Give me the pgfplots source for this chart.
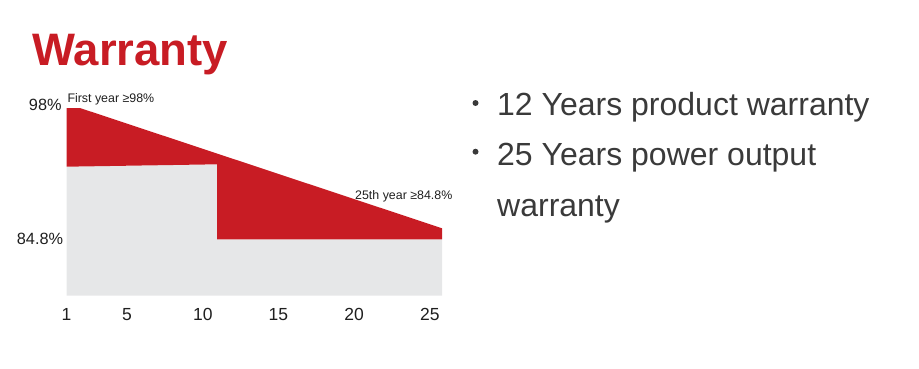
\documentclass[border=0pt]{standalone}
\usepackage{fontspec}
\setmainfont{Liberation Sans}
\usepackage{pgfplots}
\pgfplotsset{compat=1.18}
\definecolor{wred}{RGB}{200,28,36}
\definecolor{wgrey}{RGB}{230,231,232}
\definecolor{wtext}{RGB}{58,58,58}
\begin{document}
\begin{tikzpicture}
\path[use as bounding box] (0,0) rectangle (919bp,-369bp);
\node[anchor=base west, inner sep=0pt, text=wred, font=\fontsize{45.5bp}{50bp}\selectfont\bfseries] at (32.3bp,-65.5bp) {Warranty};
\begin{axis}[
  at={(66.5bp,-295.7bp)}, anchor=south west,
  scale only axis, width=375.5bp, height=187.7bp,
  xmin=1, xmax=25.8, ymin=79.13, ymax=98,
  axis line style={draw=none},
  major tick length=0pt,
  xtick={1,5,10,15,20,25},
  ytick={84.8}, yticklabels={84.8\%},
  extra y ticks={98}, extra y tick labels={98\%},
  extra y tick style={grid=none, yticklabel style={yshift=3.5bp, xshift=-1.5bp}},
  /pgf/number format/assume math mode=true,
  tick label style={font=\fontsize{16.3bp}{18bp}\selectfont, text=black!88},
  xticklabel style={inner sep=0pt, anchor=base, yshift=-24.3bp, font=\fontsize{17.5bp}{19bp}\selectfont},
  yticklabel style={inner sep=0pt, xshift=-3.2bp},
  clip=false,
]
\addplot[draw=none, fill=wgrey] coordinates {(1,79.13) (1,92.10) (10.95,92.34) (10.95,84.8) (25.8,84.8) (25.8,79.13)} -- cycle;
\addplot[draw=none, fill=wred] coordinates {(1,98) (1.89,98) (25.8,85.91) (25.8,84.8) (10.95,84.8) (10.95,92.34) (1,92.10)} -- cycle;
\end{axis}
\node[anchor=base west, inner sep=0pt, font=\fontsize{12.4bp}{14bp}\selectfont, text=black!88] at (67.3bp,-102.7bp) {First year ≥98\%};
\node[anchor=base west, inner sep=0pt, font=\fontsize{12.4bp}{14bp}\selectfont, text=black!88] at (355bp,-199bp) {25th year ≥84.8\%};
\fill[wtext] (475.5bp,-103bp) circle (3bp);
\fill[wtext] (475.5bp,-151.7bp) circle (3bp);
\node[anchor=base west, inner sep=0pt, font=\fontsize{32bp}{38bp}\selectfont, text=wtext] at (497bp,-115bp) {12 Years product warranty};
\node[anchor=base west, inner sep=0pt, font=\fontsize{32bp}{38bp}\selectfont, text=wtext] at (497bp,-165bp) {25 Years power output};
\node[anchor=base west, inner sep=0pt, font=\fontsize{32bp}{38bp}\selectfont, text=wtext] at (497bp,-216.7bp) {warranty};
\end{tikzpicture}
\end{document}
